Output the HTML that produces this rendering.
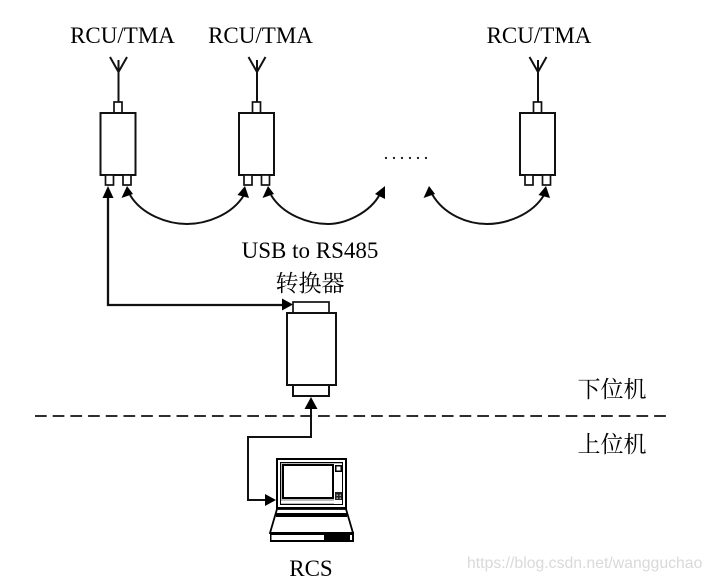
<!DOCTYPE html>
<html><head><meta charset="utf-8"><style>
html,body{margin:0;padding:0;background:#fff}
svg{display:block}
.t{font-family:"Liberation Serif","Noto Serif CJK SC",serif;fill:#000}
</style></head><body>
<svg width="712" height="582" viewBox="0 0 712 582" xmlns="http://www.w3.org/2000/svg">
<defs>
<g id="dev" fill="#fff" stroke="#111" stroke-width="2">
<path d="M-8 57L0.5 72L9 57M0.5 60V102" fill="none"/>
<rect x="-4" y="102" width="8" height="11" stroke-width="1.700"/>
<rect x="-17.500" y="113" width="35" height="62"/>
<rect x="-12.500" y="175" width="8" height="10" stroke-width="1.700"/>
<rect x="5" y="175" width="8" height="10" stroke-width="1.700"/>
</g>
</defs>
<rect width="712" height="582" fill="#fff"/>
<g class="t" font-size="23" text-anchor="middle">
<text x="122.500" y="43">RCU/TMA</text>
<text x="260.500" y="43">RCU/TMA</text>
<text x="539" y="43">RCU/TMA</text>
<text x="310" y="258">USB to RS485</text>
<text x="310" y="291">转换器</text>
<text x="311" y="576">RCS</text>
<text x="612" y="397">下位机</text>
<text x="612" y="452">上位机</text>
</g>
<use href="#dev" x="118" y="0"/>
<use href="#dev" x="256.500" y="0"/>
<use href="#dev" x="537.500" y="0"/>
<g fill="#111">
<circle cx="386" cy="158" r="1.100"/><circle cx="394" cy="158" r="1.100"/><circle cx="402" cy="158" r="1.100"/><circle cx="410" cy="158" r="1.100"/><circle cx="418" cy="158" r="1.100"/><circle cx="426" cy="158" r="1.100"/>
</g>
<g fill="none" stroke="#111" stroke-width="2">
<path d="M108 196V305H283" stroke-width="2.300"/>
<path d="M130 195C142 215 168 224 187 224C206 224 232 215 244 195"/>
<path d="M271 195C283 215 309 224 328 224C345 224 370 213 380 194"/>
<path d="M432 194C444 215 468 224 487 224C506 224 532 215 544 195"/>
<path d="M311 406V437H248V500H266"/>
<path d="M35 416H666" stroke-dasharray="11.700 5.990" stroke-width="1.800"/>
</g>
<g fill="#000">
<path d="M108 186L102.500 198H113.500Z"/>
<path d="M127 186L121.500 198L133 194Z"/>
<path d="M245 186L237.500 195L249 198Z"/>
<path d="M268 186L262.500 198L274 194Z"/>
<path d="M385 186L375 194L385 199Z"/>
<path d="M429 186L423.500 198L435 194Z"/>
<path d="M546 186L538.500 195L550 198Z"/>
<path d="M293 304.500L282 298.500V310.500Z"/>
<path d="M311 397L304.500 409H317.500Z"/>
<path d="M276 500L265 494V506Z"/>
</g>
<g fill="#fff" stroke="#111" stroke-width="2">
<rect x="293" y="302" width="36" height="11" stroke-width="1.700"/>
<rect x="293" y="385" width="36" height="11"/>
<rect x="287" y="313" width="49" height="72"/>
</g>
<g>
<path d="M277 509L270 533H353L346 509Z" fill="#fff" stroke="#000" stroke-width="1.800"/>
<rect x="276" y="458" width="71" height="51" fill="#000"/>
<rect x="278" y="460" width="67" height="47" fill="#fff"/>
<rect x="280" y="462" width="63" height="43" fill="#000"/>
<rect x="281" y="463" width="61" height="41" fill="#bbb"/>
<rect x="282" y="464" width="52" height="35" fill="#000"/>
<rect x="284" y="466" width="48" height="31" fill="#fff"/>
<rect x="334" y="464" width="8" height="40" fill="#fff"/>
<rect x="281" y="501" width="61" height="2" fill="#fff"/>
<rect x="335" y="465" width="7" height="7" fill="#000"/>
<rect x="336.500" y="466.500" width="4" height="4" fill="#fff"/>
<rect x="335" y="492" width="7" height="8" fill="#222"/>
<rect x="336.500" y="494.500" width="1.500" height="1.500" fill="#aaa"/>
<rect x="339.500" y="494.500" width="1.500" height="1.500" fill="#aaa"/>
<rect x="336.500" y="497.500" width="1.500" height="1.500" fill="#aaa"/>
<rect x="339.500" y="497.500" width="1.500" height="1.500" fill="#aaa"/>
<rect x="276" y="513" width="71" height="4" fill="#000"/>
<rect x="270" y="532" width="84" height="10" fill="#000"/>
<rect x="271.500" y="535" width="52.500" height="5" fill="#fff"/>
<rect x="350" y="535" width="2" height="5" fill="#fff"/>
</g>
<text x="467" y="568" font-family="'Liberation Sans',sans-serif" font-size="15.800" fill="#d9d9d9">https://blog.csdn.net/wangguchao</text>
</svg>
</body></html>
